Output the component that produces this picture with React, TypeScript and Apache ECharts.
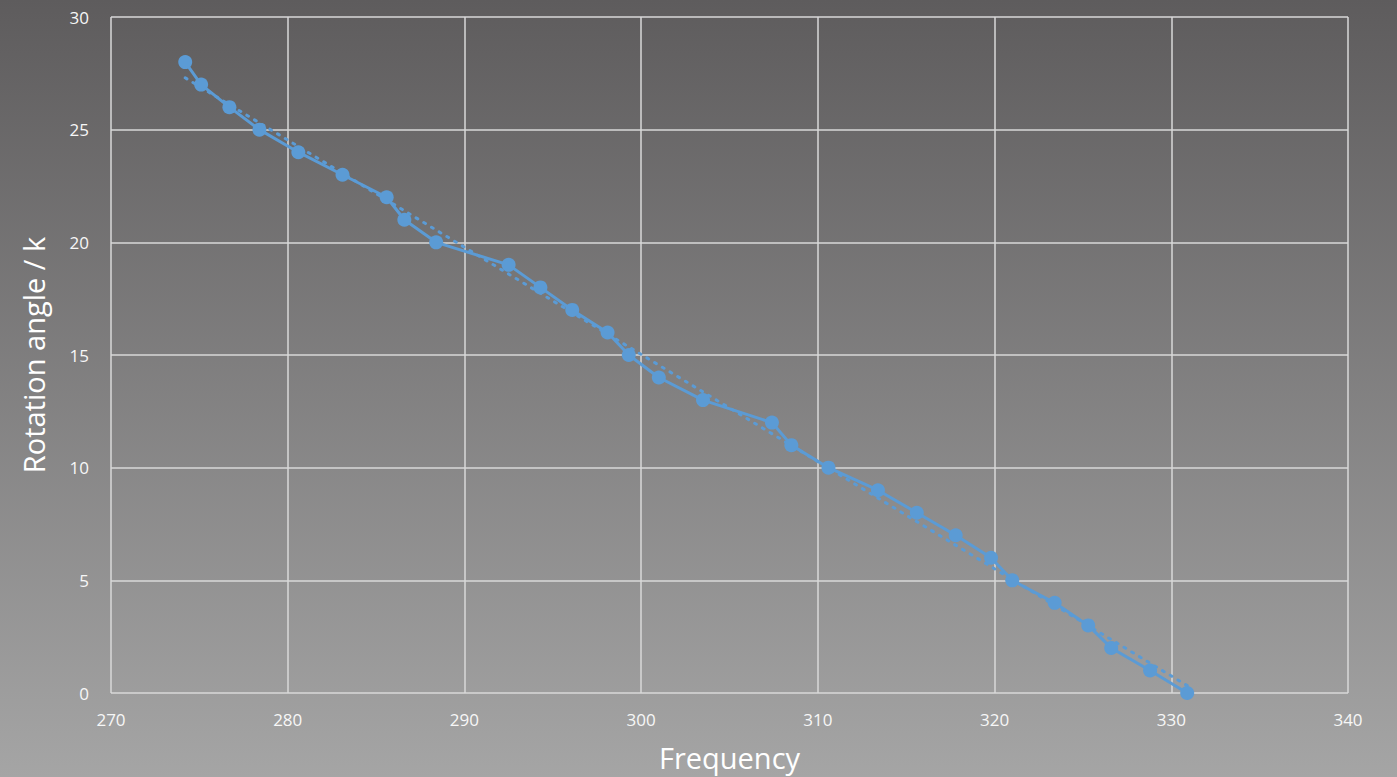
import React, { useEffect, useRef } from "react";
import * as echarts from "echarts";

const frequency = [274.2, 275.1, 276.7, 278.4, 280.6, 283.1, 285.6, 286.6, 288.4, 292.5, 294.3, 296.1, 298.1, 299.3, 301.0, 303.5, 307.4, 308.5, 310.6, 313.4, 315.6, 317.8, 319.8, 321.0, 323.4, 325.3, 326.6, 328.8, 330.9];
const angle = [28, 27, 26, 25, 24, 23, 22, 21, 20, 19, 18, 17, 16, 15, 14, 13, 12, 11, 10, 9, 8, 7, 6, 5, 4, 3, 2, 1, 0];

function trend(xs: number[], ys: number[]) {
  const n = xs.length;
  const mx = xs.reduce((a, b) => a + b, 0) / n;
  const my = ys.reduce((a, b) => a + b, 0) / n;
  let sxy = 0, sxx = 0;
  for (let i = 0; i < n; i++) {
    sxy += (xs[i] - mx) * (ys[i] - my);
    sxx += (xs[i] - mx) ** 2;
  }
  const b = sxy / sxx;
  const a = my - b * mx;
  const x0 = Math.min(...xs), x1 = Math.max(...xs);
  return [[x0, a + b * x0], [x1, a + b * x1]];
}

export default function App() {
  const ref = useRef<HTMLDivElement>(null);
  useEffect(() => {
    const chart = echarts.init(ref.current!, null, { renderer: "svg" });
    const font = "'Open Sans', 'Liberation Sans', sans-serif";
    chart.setOption({
      animation: false,
      backgroundColor: new echarts.graphic.LinearGradient(0, 0, 0, 1, [
        { offset: 0, color: "#5e5c5d" },
        { offset: 1, color: "#a5a5a5" },
      ]),
      grid: { left: 111, top: 17, right: 49, bottom: 84 },
      xAxis: {
        type: "value",
        min: 270,
        max: 340,
        interval: 10,
        name: "Frequency",
        nameLocation: "middle",
        nameGap: 50,
        nameTextStyle: { color: "#ffffff", fontSize: 29, fontFamily: font },
        axisLine: { show: false },
        axisTick: { show: false },
        axisLabel: { color: "#f7f7f7", fontSize: 17, fontFamily: font, margin: 18 },
        splitLine: { show: true, lineStyle: { color: "#d9d9d9", width: 1.5 } },
      },
      yAxis: {
        type: "value",
        min: 0,
        max: 30,
        interval: 5,
        name: "Rotation angle / k",
        nameLocation: "middle",
        nameGap: 63,
        nameTextStyle: { color: "#ffffff", fontSize: 29, fontFamily: font },
        axisLine: { show: false },
        axisTick: { show: false },
        axisLabel: { color: "#f7f7f7", fontSize: 17, fontFamily: font, margin: 22 },
        splitLine: { show: true, lineStyle: { color: "#d9d9d9", width: 1.5 } },
      },
      series: [
        {
          type: "line",
          data: trend(frequency, angle),
          symbol: "none",
          lineStyle: { color: "#5b9bd5", width: 3, type: [2, 7], cap: "round" },
          z: 1,
        },
        {
          type: "line",
          data: frequency.map((f, i) => [f, angle[i]]),
          symbol: "circle",
          symbolSize: 14,
          itemStyle: { color: "#5b9bd5" },
          lineStyle: { color: "#5b9bd5", width: 3 },
          z: 2,
        },
      ],
    });
    return () => chart.dispose();
  }, []);
  return <div ref={ref} style={{ position: "fixed", left: 0, top: 0, width: 1397, height: 777 }} />;
}
